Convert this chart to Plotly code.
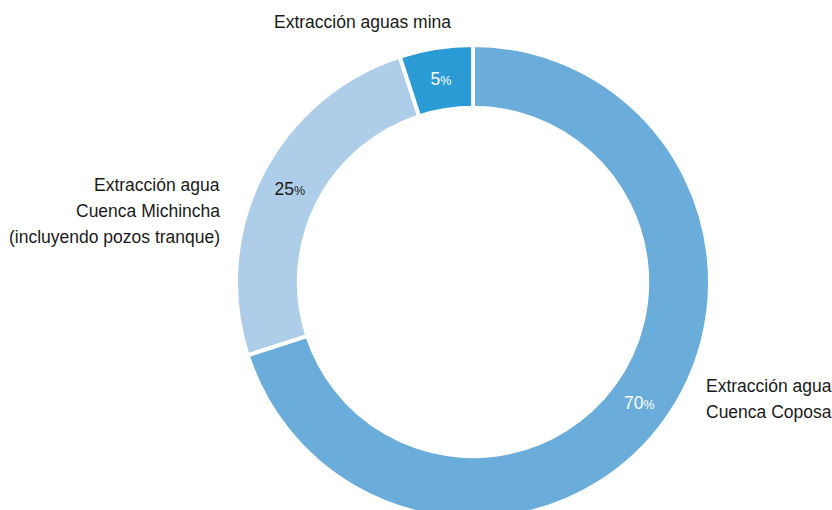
import plotly.graph_objects as go

categories = ["Extracción agua Cuenca Coposa",
              "Extracción agua Cuenca Michincha (incluyendo pozos tranque)",
              "Extracción aguas mina"]
values = [70, 25, 5]
colors = ["#6aaddb", "#aecde9", "#2a9bd4"]
text_colors = ["#ffffff", "#1a1a1a", "#ffffff"]

label_lines_mina = ["Extracción aguas mina"]
label_lines_michincha = ["Extracción agua", "Cuenca Michincha", "(incluyendo pozos tranque)"]
label_lines_coposa = ["Extracción agua", "Cuenca Coposa"]

FONT = "Liberation Sans, Arial, sans-serif"
W, H = 832, 530
fig = go.Figure(go.Pie(
    labels=categories,
    values=values,
    sort=False,
    direction="clockwise",
    rotation=0,
    hole=0.735,
    marker=dict(colors=colors, line=dict(color="white", width=4)),
    texttemplate="%{value}<span style='font-size:12.5px'>%</span>",
    textposition="inside",
    insidetextorientation="horizontal",
    textfont=dict(family=FONT, size=17.5, color=text_colors),
    showlegend=False,
    domain=dict(x=[236 / W, 710 / W], y=[1 - 519 / H, 1 - 45 / H]),
))

lab_font = dict(family=FONT, size=17.5, color="#1a1a1a")


def add_lines(lines, x, y0, anchor):
    for i, line in enumerate(lines):
        fig.add_annotation(x=x / W, y=1 - (y0 + 26 * i) / H, xref="paper", yref="paper",
                           text=line, showarrow=False, xanchor=anchor, yanchor="middle",
                           font=lab_font)


add_lines(label_lines_mina, 362, 22, "center")
add_lines(label_lines_michincha, 222, 185, "right")
add_lines(label_lines_coposa, 704, 386, "left")

fig.update_layout(width=W, height=H, margin=dict(l=0, r=0, t=0, b=0),
                  paper_bgcolor="white", plot_bgcolor="white")

fig.write_html("out.html", config={"displayModeBar": False},
               post_script="document.body.style.margin='0';document.body.style.overflow='hidden';")
